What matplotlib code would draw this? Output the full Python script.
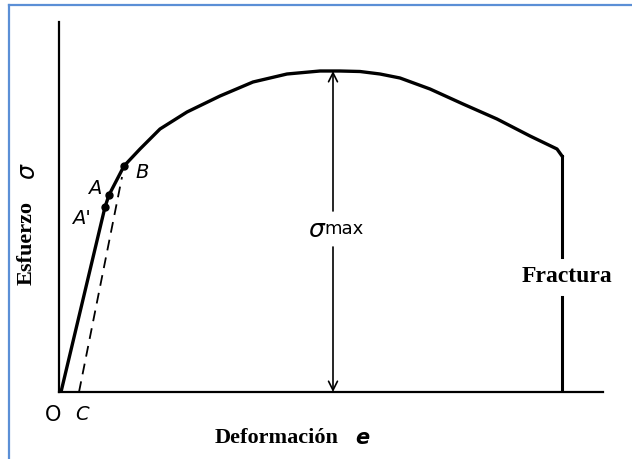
import matplotlib
matplotlib.use("Agg")
import matplotlib.pyplot as plt
from matplotlib.lines import Line2D

# stress-strain curve, arbitrary units
elastic_e = [0.2, 4.6, 5.0, 6.5]
elastic_s = [0.0, 18.5, 19.7, 22.6]
plastic_e = [6.5, 8.1, 10.1, 12.8, 16.1, 19.4, 22.8, 26.1, 28.1, 30.1, 32.1, 34.1,
             37.1, 40.4, 43.8, 47.1, 49.8, 50.3]
plastic_s = [22.6, 24.3, 26.3, 28.0, 29.6, 31.0, 31.8, 32.1, 32.1, 32.05, 31.8, 31.4,
             30.3, 28.8, 27.3, 25.6, 24.3, 23.6]
offset_e = [2.0, 6.3]
offset_s = [0.0, 21.5]
points = {"A'": (4.6, 18.5), "A": (5.0, 19.7), "B": (6.5, 22.6)}
e_fracture = 50.3
fracture_gap = (9.5, 13.5)
e_smax = 27.4
s_max = 32.1
smax_gap = (14.5, 18.1)

serif = "Liberation Serif"
hand = "DejaVu Sans"

fig = plt.figure(figsize=(6.32, 4.60), dpi=100)
ax = fig.add_axes([59 / 632, 67 / 460, 544 / 632, 370 / 460])
ax.set_xlim(0, 54.4)
ax.set_ylim(0, 37.0)
for side in ["top", "right"]:
    ax.spines[side].set_visible(False)
ax.spines["left"].set_linewidth(1.6)
ax.spines["bottom"].set_linewidth(1.6)
ax.set_xticks([])
ax.set_yticks([])

# curve
ax.plot(elastic_e, elastic_s, color="black", lw=2.4, solid_capstyle="round")
ax.plot(plastic_e, plastic_s, color="black", lw=2.4, solid_joinstyle="round")
ax.plot([e_fracture, e_fracture], [plastic_s[-1], fracture_gap[1]], color="black", lw=2.2)
ax.plot([e_fracture, e_fracture], [fracture_gap[0], 0], color="black", lw=2.2)
ax.plot(offset_e, offset_s, color="black", lw=1.3, ls=(0, (6, 4)))
for name, (x, y) in points.items():
    ax.plot(x, y, "o", color="black", ms=5)

# sigma max arrow
ax.annotate("", xy=(e_smax, s_max), xytext=(e_smax, smax_gap[1]),
            arrowprops=dict(arrowstyle="->", color="black", lw=1.2, mutation_scale=16,
                            shrinkA=0, shrinkB=0))
ax.annotate("", xy=(e_smax, 0), xytext=(e_smax, smax_gap[0]),
            arrowprops=dict(arrowstyle="->", color="black", lw=1.2, mutation_scale=16,
                            shrinkA=0, shrinkB=0))
sig = ax.text(24.9, 16.3, "σ", fontsize=18, family=hand, style="italic",
              ha="left", va="center")
ax.annotate("max", xy=(1.0, 0.15), xycoords=sig, fontsize=13, family=hand,
            ha="left", va="bottom")

# point labels
lab = dict(fontsize=14, family=hand, style="italic", ha="center", va="center")
ax.text(3.6, 20.4, "A", **lab)
ax.text(2.2, 17.4, "A'", **lab)
ax.text(8.3, 22.0, "B", **lab)
ax.text(-0.6, -2.2, "O", fontsize=15, family=hand, ha="center", va="center", clip_on=False)
ax.text(2.3, -2.2, "C", **lab, clip_on=False)

ax.text(e_fracture + 0.5, 11.6, "Fractura", fontsize=17, family=serif, weight="bold",
        ha="center", va="center")

# axis titles
xl = ax.text(15.6, -4.5, "Deformación", fontsize=16, family=serif, weight="bold",
             ha="left", va="center", clip_on=False)
ax.annotate("e", xy=(1.0, 0.5), xycoords=xl, fontsize=15, family=hand, style="italic",
            weight="bold", ha="left", va="center", xytext=(12, 0), textcoords="offset points")
yl = ax.text(-3.2, 19.2, "Esfuerzo", fontsize=16, family=serif, weight="bold",
             rotation=90, ha="center", va="top", clip_on=False)
ax.annotate("σ", xy=(0.5, 1.0), xycoords=yl, fontsize=17, family=hand, style="italic",
            rotation=90, ha="center", va="bottom", xytext=(0, 16), textcoords="offset points")

# blue frame
fig.add_artist(Line2D([9 / 632, 9 / 632], [0, 1 - 6 / 460], transform=fig.transFigure,
                      color="#5b8fd6", lw=1.6))
fig.add_artist(Line2D([9 / 632, 1], [1 - 6 / 460, 1 - 6 / 460], transform=fig.transFigure,
                      color="#5b8fd6", lw=1.6))

fig.savefig("out.png", dpi=100)
